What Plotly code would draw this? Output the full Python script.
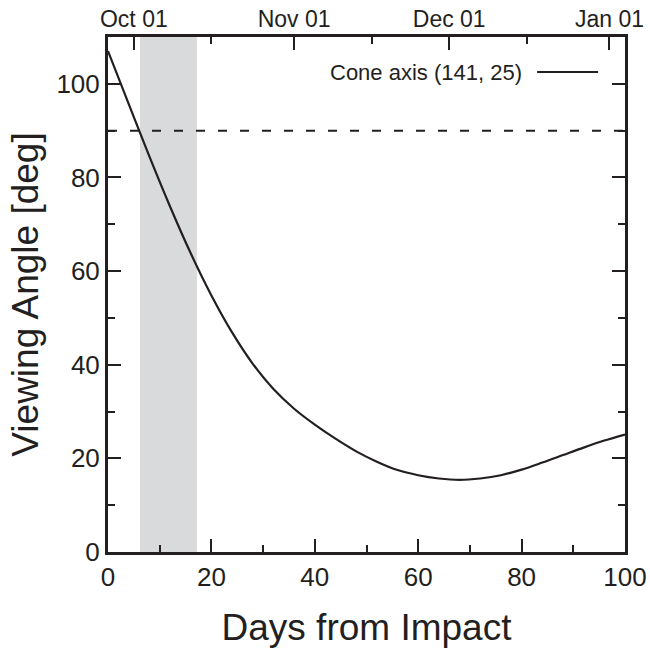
import datetime as dt
import plotly.graph_objects as go

# ---- data ----
days = [0, 4, 8, 12, 16, 20, 24, 28, 32, 36, 40, 44, 48, 52, 56, 60, 64, 68, 72, 76, 80, 84, 88, 92, 96, 100]
angle = [107, 95.7, 84.5, 73.8, 63.8, 54.8, 46.9, 40.2, 34.8, 30.6, 27.2, 24.2, 21.5, 19.3, 17.5, 16.4, 15.7, 15.4, 15.7, 16.4, 17.6, 19.1, 20.7, 22.3, 23.8, 25.1]
series_name = "Cone axis (141, 25)"
threshold = 90
shade_start, shade_end = 6.2, 17.2
impact_date = dt.date(2022, 9, 26)
top_dates = [dt.date(2022, 10, 1), dt.date(2022, 11, 1), dt.date(2022, 12, 1), dt.date(2023, 1, 1)]
top_labels = ["Oct 01", "Nov 01", "Dec 01", "Jan 01"]
top_minor_dates = [dt.date(2022, 10, 16), dt.date(2022, 11, 16), dt.date(2022, 12, 16)]

top_vals = [(d - impact_date).days for d in top_dates]
top_minor = [(d - impact_date).days for d in top_minor_dates]

INK = "#231f20"
FONT = "Liberation Sans, Arial, Helvetica, sans-serif"

fig = go.Figure()
fig.add_vrect(x0=shade_start, x1=shade_end, fillcolor="#d9dadc", line_width=0, layer="below")
fig.add_hline(y=threshold, line=dict(color=INK, width=2, dash="9px,13px"))
fig.add_trace(go.Scatter(x=days, y=angle, mode="lines", name=series_name,
                         line=dict(color=INK, width=2.2, shape="spline", smoothing=1.0),
                         showlegend=False))
# invisible trace to anchor top date axis
fig.add_trace(go.Scatter(x=days, y=angle, xaxis="x2", mode="lines",
                         line=dict(width=0), opacity=0, hoverinfo="skip", showlegend=False))

# legend (text then line sample, as in the original)
fig.add_annotation(xref="paper", yref="paper", x=0.805, y=0.932, xanchor="right", yanchor="middle",
                   text=series_name, showarrow=False, font=dict(family=FONT, size=22, color=INK))
fig.add_shape(type="line", xref="paper", yref="paper", x0=0.83, x1=0.948, y0=0.932, y1=0.932,
              line=dict(color=INK, width=2))

axis_common = dict(showline=True, linecolor=INK, linewidth=3, ticks="inside", tickcolor=INK,
                   tickwidth=2, ticklen=13, showgrid=False, zeroline=False, automargin=False,
                   tickfont=dict(family=FONT, size=26, color=INK))

fig.update_layout(
    width=650, height=650,
    margin=dict(l=108, r=25, t=37, b=98),
    paper_bgcolor="white", plot_bgcolor="white",
    xaxis=dict(range=[0, 100], tickvals=[0, 20, 40, 60, 80, 100], mirror=True,
               minor=dict(tickvals=[10, 30, 50, 70, 90], ticks="inside", ticklen=7, tickwidth=2, tickcolor=INK),
               title=dict(text="Days from Impact", font=dict(family=FONT, size=37, color=INK), standoff=23),
               **axis_common),
    xaxis2=dict(range=[0, 100], overlaying="x", side="top", tickvals=top_vals, ticktext=top_labels,
                showline=False, ticks="inside", tickcolor=INK, tickwidth=2, ticklen=13, automargin=False,
                ticklabelstandoff=4,
                minor=dict(tickvals=top_minor, ticks="inside", ticklen=7, tickwidth=2, tickcolor=INK),
                showgrid=False, zeroline=False, tickfont=dict(family=FONT, size=23, color=INK)),
    yaxis=dict(range=[0, 110], tickvals=[0, 20, 40, 60, 80, 100], mirror="ticks",
               minor=dict(tickvals=[10, 30, 50, 70, 90], ticks="inside", ticklen=7, tickwidth=2, tickcolor=INK),
               title=dict(text="Viewing Angle [deg]", font=dict(family=FONT, size=37, color=INK), standoff=7),
               **axis_common),
)

fig.write_html("out.html", config={"displayModeBar": False},
               post_script="document.body.style.margin='0';")
